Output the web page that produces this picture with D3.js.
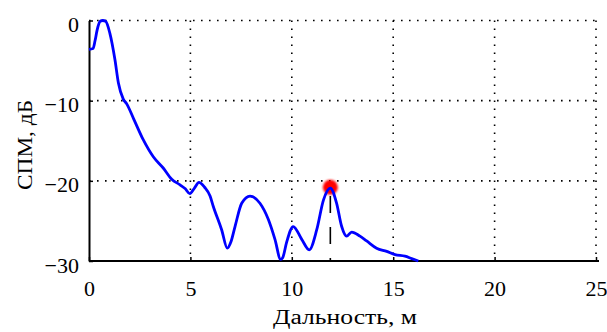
<!DOCTYPE html>
<html><head><meta charset="utf-8">
<script src="https://cdn.jsdelivr.net/npm/d3@7"></script>
<style>body{margin:0;background:#fff}svg{display:block}text{font-family:"Liberation Serif","Times New Roman",Times,serif}</style>
</head><body>
<svg id="c" width="607" height="332"></svg>
<script>
const rangeM = [0, 0.2, 0.3, 0.4, 0.55, 0.68, 0.82, 1.03, 1.28, 1.45, 1.69, 1.86, 2.19, 2.68, 3.17, 3.66, 4.08, 4.49, 4.75, 4.97, 5.2, 5.42, 5.7, 5.97, 6.13, 6.54, 6.82, 7.0, 7.2, 7.53, 7.94, 8.43, 8.84, 9.17, 9.45, 9.55, 9.74, 10.07, 10.49, 10.86, 11.23, 11.56, 11.9, 12.21, 12.46, 12.7, 12.95, 13.36, 13.69, 14.18, 14.68, 15.09, 15.58, 15.91, 16.24];
const spmDb = [-3.6, -3.5, -2.5, -1.2, -0.1, 0, -0.1, -1.6, -4.9, -7.8, -9.8, -10.4, -12.2, -14.9, -17.0, -18.4, -19.8, -20.5, -21.0, -21.6, -20.9, -20.2, -20.8, -21.9, -23.2, -26.1, -28.4, -27.6, -25.7, -22.8, -21.9, -22.8, -24.8, -27.3, -29.8, -29.6, -27.7, -25.7, -27.3, -28.6, -26.1, -22.4, -20.9, -22.8, -25.7, -26.9, -26.4, -26.9, -27.5, -28.4, -28.8, -29.2, -29.4, -29.7, -30];
const peakM = [11.9];
const peakDb = [-20.8];
const xTicks = [0, 5, 10, 15, 20, 25];
const yTicks = [0, -10, -20, -30];
const xLabel = "Дальность, м";
const yLabel = "СПМ, дБ";

const svg = d3.select("#c");
const x = d3.scaleLinear().domain([0, 25]).range([89, 596]);
const y = d3.scaleLinear().domain([-30, 0]).range([261, 20.5]);

const defs = svg.append("defs");
defs.append("filter").attr("id","blur").append("feGaussianBlur").attr("stdDeviation",0.9);

// grid
const grid = svg.append("g").attr("stroke","#000").attr("stroke-width",1.6).attr("stroke-dasharray","1.6,6.4");
grid.selectAll("line.v").data(xTicks.filter(t=>t>0)).join("line")
  .attr("x1",d=>x(d)).attr("x2",d=>x(d)).attr("y1",y(0)).attr("y2",y(-30));
grid.selectAll("line.h").data(yTicks.filter(t=>t>-30)).join("line")
  .attr("x1",x(0)).attr("x2",x(25)).attr("y1",d=>y(d)).attr("y2",d=>y(d));

// axes
const xAxis = svg.append("g").attr("transform",`translate(0,${y(-30)})`)
  .call(d3.axisBottom(x).tickValues(xTicks).tickSize(-4).tickPadding(19).tickSizeOuter(0));
const yAxis = svg.append("g").attr("transform",`translate(${x(0)},0)`)
  .call(d3.axisLeft(y).tickValues(yTicks).tickSize(-4).tickPadding(10).tickSizeOuter(0));
[xAxis,yAxis].forEach(a=>{
  a.attr("font-family",null).attr("font-size",null);
  a.select(".domain").attr("stroke","#000").attr("stroke-width",2);
  a.selectAll(".tick line").attr("stroke","#000").attr("stroke-width",1.5);
  a.selectAll(".tick text").attr("fill","#000").style("font-size","22px");
});
yAxis.selectAll(".tick text").attr("dy","0.5em");
xAxis.selectAll(".tick text").attr("dy","0.71em");
xAxis.select(".domain").attr("d",`M${x(0)},0H${x(25)+3}`);

// marker
svg.append("circle").attr("cx",x(peakM[0])).attr("cy",y(peakDb[0])).attr("r",7.5)
  .attr("fill","#ff0000").attr("filter","url(#blur)");

// dashed line at peak
svg.append("line").attr("x1",x(peakM[0])).attr("x2",x(peakM[0]))
  .attr("y1",y(-21.9)).attr("y2",y(-30)).attr("stroke","#000").attr("stroke-width",1.6)
  .attr("stroke-dasharray","17,14");

// curve
const line = d3.line().x((d,i)=>x(rangeM[i])).y(d=>y(d)).curve(d3.curveMonotoneX);
svg.append("path").datum(spmDb).attr("d",line).attr("fill","none")
  .attr("stroke","#0000ff").attr("stroke-width",2.8).attr("stroke-linejoin","round");

// labels
svg.append("text").attr("x",345).attr("y",324).attr("text-anchor","middle")
  .style("font-size","20px").attr("textLength",144)
  .attr("lengthAdjust","spacingAndGlyphs").text(xLabel);
svg.append("text").attr("transform","translate(32,145) rotate(-90)").attr("text-anchor","middle")
  .style("font-size","22px").attr("textLength",90)
  .attr("lengthAdjust","spacingAndGlyphs").text(yLabel);
</script>
</body></html>
